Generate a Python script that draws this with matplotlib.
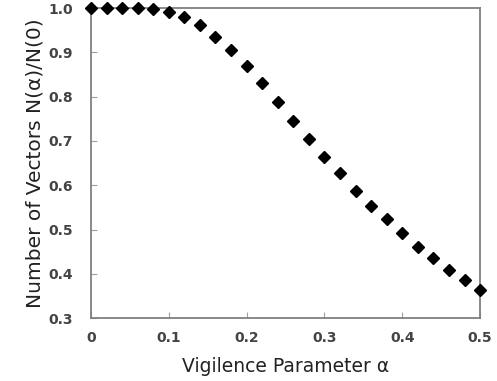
import matplotlib.pyplot as plt

# vigilance parameter and normalised number of vectors
alpha = [0.00, 0.02, 0.04, 0.06, 0.08, 0.10, 0.12, 0.14, 0.16, 0.18, 0.20, 0.22, 0.24,
         0.26, 0.28, 0.30, 0.32, 0.34, 0.36, 0.38, 0.40, 0.42, 0.44, 0.46, 0.48, 0.50]
ratio = [1.000, 1.000, 1.000, 1.000, 0.998, 0.991, 0.980, 0.962, 0.935, 0.905, 0.869, 0.831, 0.788,
         0.746, 0.704, 0.664, 0.628, 0.587, 0.553, 0.524, 0.492, 0.461, 0.436, 0.409, 0.386, 0.363]

xticks = [0, 0.1, 0.2, 0.3, 0.4, 0.5]
xticklabels = ['0', '0.1', '0.2', '0.3', '0.4', '0.5']
yticks = [0.3, 0.4, 0.5, 0.6, 0.7, 0.8, 0.9, 1.0]

plt.rcParams['font.family'] = ['DejaVu Sans']

fig = plt.figure(figsize=(4.97, 3.81), dpi=100)
ax = fig.add_axes([0.183, 0.165, 0.783, 0.814])

ax.plot(alpha, ratio, linestyle='none', marker='D', markersize=6,
        color='black', clip_on=False, zorder=3)

ax.set_xlim(0, 0.5)
ax.set_ylim(0.3, 1.0)
ax.set_xticks(xticks)
ax.set_xticklabels(xticklabels)
ax.set_yticks(yticks)
ax.set_yticklabels(['%.1f' % v for v in yticks])

for s in ax.spines.values():
    s.set_color('#808080')
    s.set_linewidth(1.3)

ax.tick_params(direction='in', length=4, color='#a0a0a0', labelsize=10,
               labelcolor='#444444')
ax.tick_params(axis='y', pad=13)
ax.tick_params(axis='x', pad=9)
for lbl in ax.get_xticklabels() + ax.get_yticklabels():
    lbl.set_fontweight('bold')

ax.set_xlabel('Vigilence Parameter α', fontsize=13.5, color='#222222', labelpad=9)
ax.set_ylabel('Number of Vectors N(α)/N(0)', fontsize=14.5, color='#222222', labelpad=3)

fig.savefig('out.png', dpi=100)
